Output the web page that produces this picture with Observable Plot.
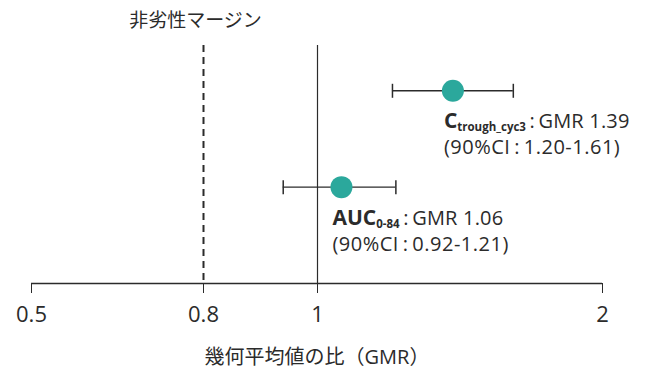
<!DOCTYPE html>
<html>
<head>
<meta charset="utf-8">
<script src="https://cdn.jsdelivr.net/npm/d3@7"></script>
<script src="https://cdn.jsdelivr.net/npm/@observablehq/plot@0.6"></script>
<style>
  html, body { margin: 0; padding: 0; background: #fff; }
  #chart svg { display: block; }
</style>
</head>
<body>
<div id="chart"></div>
<script>
// ---- data ----
const metrics   = ["Ctrough_cyc3", "AUC0-84"];
const mainLabel = ["C", "AUC"];
const subLabel  = ["trough_cyc3", "0-84"];
const gmr       = [1.39, 1.06];
const ciLow     = [1.20, 0.92];
const ciHigh    = [1.61, 1.21];
const rowPos    = [2, 1];
const xTicks    = [0.5, 0.8, 1, 2];
const nonInferiorityMargin = 0.8;
const marginTitle = "非劣性マージン";
const xTitle = "幾何平均値の比（GMR）";

const sep = "\u2009:\u2009";
const rows = metrics.map((m, i) => ({
  metric: m, row: rowPos[i], gmr: gmr[i], lo: ciLow[i], hi: ciHigh[i],
  head: mainLabel[i] + subLabel[i] + sep + "GMR " + gmr[i].toFixed(2),
  ci: "(90%CI" + sep + ciLow[i].toFixed(2) + "-" + ciHigh[i].toFixed(2) + ")"
}));
const caps = rows.flatMap(d => [{x: d.lo, y: d.row}, {x: d.hi, y: d.row}]);

const ink = "#2b2b2b";
const teal = "#2ba89c";
const font = "'Open Sans', 'Noto Sans CJK JP', sans-serif";
const vbar = { draw(ctx, size) { const h = Math.sqrt(size / Math.PI); ctx.moveTo(0, -h); ctx.lineTo(0, h); } };

// the printed axis places 0.8 schematically; log spacing holds from ~0.9 upward
const x0 = 31, x08 = 203, x1 = 317, x2 = 602;
const x09 = x1 + (x2 - x1) * Math.log(0.9) / Math.log(2);

const svg = Plot.plot({
  width: 648,
  height: 368,
  marginLeft: x0,
  marginRight: 648 - x2,
  marginTop: 45,
  marginBottom: 85,
  style: { fontFamily: font, color: ink, background: "#fff" },
  x: { type: "log", domain: [0.5, 0.8, 0.9, 2], range: [x0, x08, x09, x2] },
  y: { domain: [0, 2.47], axis: null },
  marks: [
    Plot.ruleX([nonInferiorityMargin], { x: d => d, stroke: ink, strokeWidth: 2, strokeDasharray: "7,5" }),
    Plot.ruleX([1], { x: d => d, stroke: ink, strokeWidth: 1.2 }),
    Plot.ruleY([0], { stroke: ink, strokeWidth: 1.3 }),
    Plot.axisX({ ticks: xTicks, tickSize: 10, tickPadding: 13, fontSize: 22, tickFormat: d => String(d),
      label: xTitle, labelAnchor: "center", labelArrow: "none", labelOffset: 80 }),
    Plot.ruleY(rows, { y: "row", x1: "lo", x2: "hi", stroke: ink, strokeWidth: 1.4 }),
    Plot.dot(caps, { x: "x", y: "y", symbol: vbar, r: 7, stroke: ink, strokeWidth: 1.5 }),
    Plot.dot(rows, { x: "gmr", y: "row", r: 11, fill: teal, stroke: "none" }),
    Plot.text(rows, { x: "gmr", y: "row", dx: -9, dy: 31, textAnchor: "start", lineAnchor: "middle",
      text: "head", fontSize: 20, fill: ink }),
    Plot.text(rows, { x: "gmr", y: "row", dx: -9, dy: 57, textAnchor: "start", lineAnchor: "middle",
      text: "ci", fontSize: 20, fill: ink }),
    Plot.text([nonInferiorityMargin], { x: d => d, frameAnchor: "top", dx: -8, dy: -25, lineAnchor: "middle",
      text: () => marginTitle, fontSize: 19, fill: ink, fontFamily: "'Noto Sans CJK JP', sans-serif" })
  ]
});

// rich formatting of the metric head labels (bold name + subscript)
d3.select(svg).selectAll("text").each(function () {
  const txt = this.textContent;
  rows.forEach((d, i) => {
    if (txt === d.head) {
      const t = d3.select(this);
      t.text(null);
      t.append("tspan").attr("font-weight", 700).attr("font-size", 21).text(mainLabel[i]);
      t.append("tspan").attr("font-weight", 700).attr("font-size", 11.5).attr("dy", 3).text(subLabel[i]);
      t.append("tspan").attr("dy", -3).attr("letter-spacing", 0.2).text(sep + "GMR " + d.gmr.toFixed(2));
    }
    if (txt === d.ci) d3.select(this).attr("letter-spacing", 0.5);
  });
});
// axis title size
d3.select(svg).selectAll("text").filter(function () { return this.textContent === xTitle; })
  .attr("font-size", 20);

document.getElementById("chart").appendChild(svg);
</script>
</body>
</html>
